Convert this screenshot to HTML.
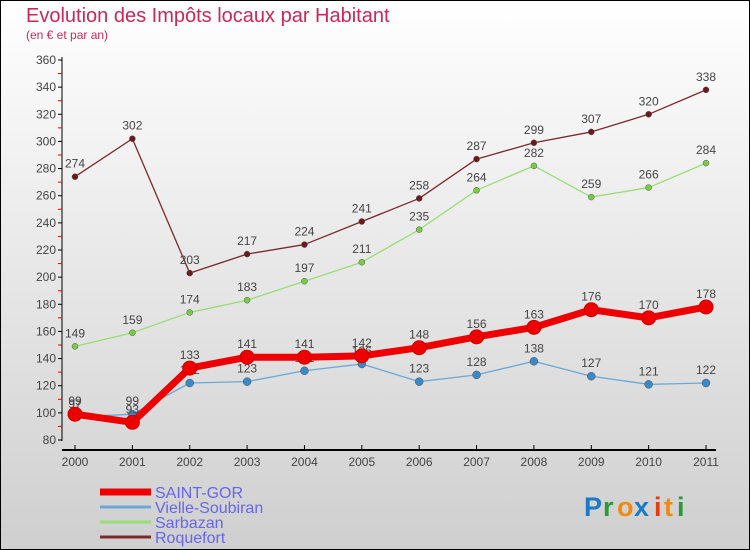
<!DOCTYPE html>
<html><head><meta charset="utf-8"><style>
body{margin:0}
#c{width:750px;height:550px;position:relative;overflow:hidden;font-family:"Liberation Sans",sans-serif}
</style></head><body>
<div id="c">
<svg id="s" width="750" height="550" xmlns="http://www.w3.org/2000/svg">
<defs><linearGradient id="bg" x1="0" y1="0" x2="0" y2="1"><stop offset="0" stop-color="#ffffff"/><stop offset="1" stop-color="#cfcfcf"/></linearGradient></defs>
<rect x="0.5" y="0.5" width="749" height="549" fill="url(#bg)" stroke="#000"/>
<text x="26" y="22" font-size="20" fill="#c8285a">Evolution des Impôts locaux par Habitant</text>
<text x="26" y="39" font-size="12" fill="#c8285a">(en € et par an)</text>
<g id="axes"></g><g id="series"></g><g id="legend"></g>
<g font-size="27" font-weight="bold">
<text x="584" y="516" fill="#1e78c8">P</text><text x="603" y="516" fill="#2a9a3a">r</text><text x="617" y="516" fill="#f08a10">o</text><text x="634" y="516" fill="#1e78c8">x</text><text x="654" y="516" fill="#e83a10">i</text><text x="664" y="516" fill="#f08a10">t</text><text x="677" y="516" fill="#2a9a3a">i</text>
</g>
</svg>
</div>
<script>
const years=[2000,2001,2002,2003,2004,2005,2006,2007,2008,2009,2010,2011];
const saintGor=[99,93,133,141,141,142,148,156,163,176,170,178];
const vielle=[97,99,122,123,131,136,123,128,138,127,121,122];
const sarbazan=[149,159,174,183,197,211,235,264,282,259,266,284];
const roquefort=[274,302,203,217,224,241,258,287,299,307,320,338];
const yTicks=[80,100,120,140,160,180,200,220,240,260,280,300,320,340,360];
const NS="http://www.w3.org/2000/svg";
const X=i=>75+i*(706-75)/11;
const Y=v=>440-(v-80)*380/280;
function mk(tag,attrs,parent){const e=document.createElementNS(NS,tag);for(const k in attrs)e.setAttribute(k,attrs[k]);parent.appendChild(e);return e;}
const axes=document.getElementById('axes');
let ax=mk('line',{x1:62,y1:57,x2:62,y2:441,stroke:'#000'},axes);


let xa=mk('line',{x1:62,y1:450,x2:716,y2:450,stroke:'#000','stroke-width':2},axes);


yTicks.forEach(v=>{
 mk('line',{x1:58,y1:Y(v),x2:62,y2:Y(v),stroke:'#000'},axes);
 if(v<360)mk('line',{x1:58,y1:Y(v+10),x2:62,y2:Y(v+10),stroke:'#e00'},axes);
 const t=mk('text',{x:56,y:Y(v)+4,'text-anchor':'end','font-size':12,fill:'#444'},axes);t.textContent=v;
 
 
});
years.forEach((y,i)=>{
 mk('line',{x1:X(i),y1:445,x2:X(i),y2:450,stroke:'#000'},axes);
 const t=mk('text',{x:X(i),y:466,'text-anchor':'middle','font-size':12,fill:'#444'},axes);t.textContent=y;
 
 
});
const ser=document.getElementById('series');
const defs=[
 {name:'Roquefort',data:roquefort,c:'#7a2a2a',pt:'#6a1a1a',w:1.3,r:3},
 {name:'Sarbazan',data:sarbazan,c:'#99dd77',pt:'#77cc44',w:1.3,r:3},
 {name:'Vielle-Soubiran',data:vielle,c:'#6aa8d8',pt:'#3a88c8',w:1.3,r:4},
 {name:'SAINT-GOR',data:saintGor,c:'#ee0000',pt:'#ee0000',w:7,r:7}
];
defs.forEach(d=>{
 const g=mk('g',{},ser);
 
 
 const p=mk('polyline',{points:d.data.map((v,i)=>X(i)+','+Y(v)).join(' '),fill:'none',stroke:d.c,'stroke-width':d.w,'stroke-linejoin':'round'},g);
 
 
 d.data.forEach((v,i)=>{
  const c=mk('circle',{cx:X(i),cy:Y(v),r:d.r,fill:d.pt,stroke:d.w>2?'#cc0000':'#555','stroke-width':d.w>2?1:0.5},g);
  
  
  const t=mk('text',{x:X(i),y:Y(v)-9,'text-anchor':'middle','font-size':12,fill:'#444'},g);t.textContent=v;
  
  
 });
});
const leg=document.getElementById('legend');
['SAINT-GOR','Vielle-Soubiran','Sarbazan','Roquefort'].forEach((n,i)=>{
 const d=defs.find(x=>x.name===n);const y=492+i*15;
 const g=mk('g',{},leg);
 
 
 mk('line',{x1:100,y1:y,x2:151,y2:y,stroke:d.c,'stroke-width':i==0?7:3},g);
 const t=mk('text',{x:155,y:y+6,'font-size':16,fill:'#6666ee'},g);t.textContent=n;
});
</script>
</body></html>
